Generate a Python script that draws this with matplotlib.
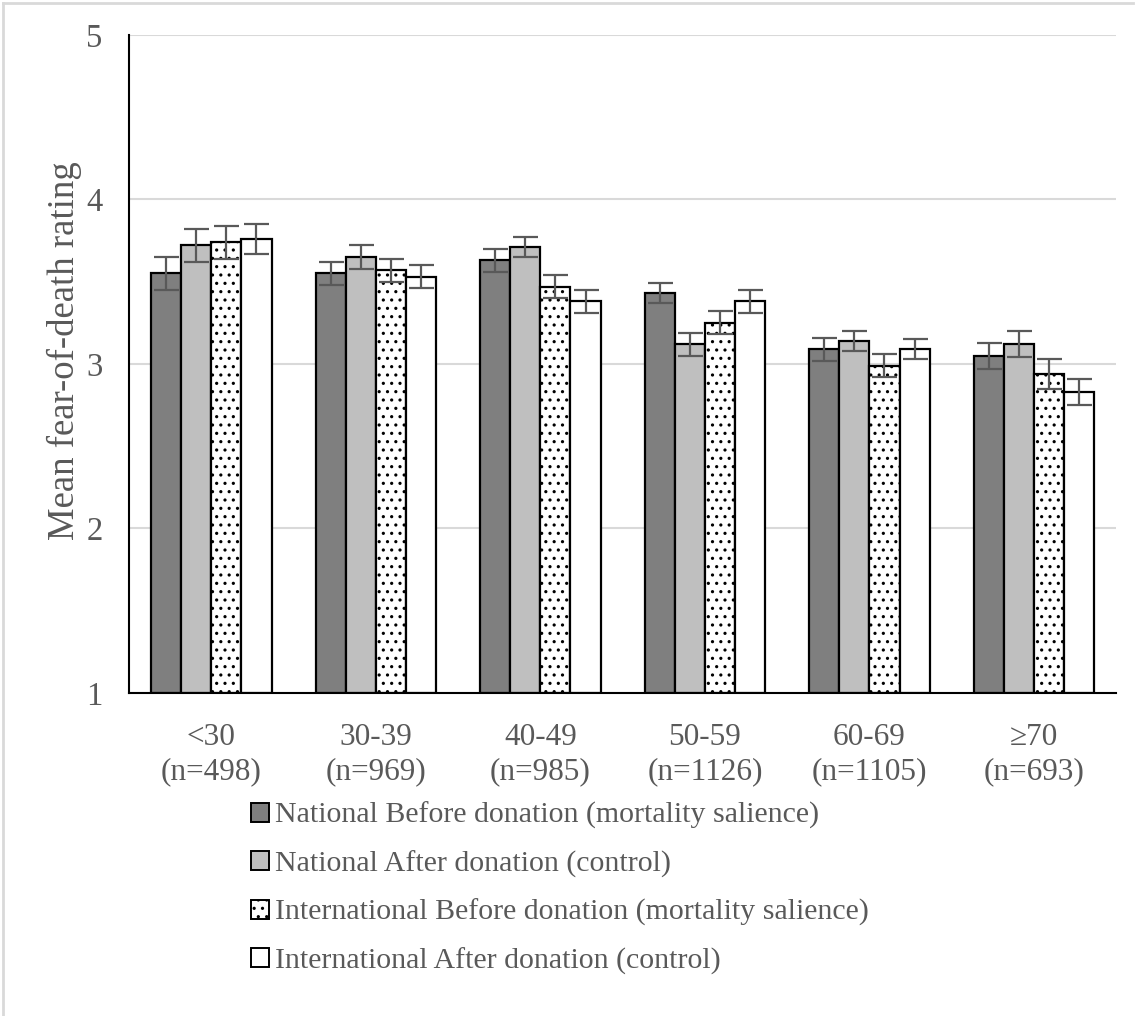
import numpy as np
import matplotlib.pyplot as plt
from matplotlib.patches import Rectangle
from matplotlib.lines import Line2D

plt.rcParams['font.family'] = ['Liberation Serif', 'DejaVu Serif']
plt.rcParams['hatch.linewidth'] = 1.1

# data
groups = ["<30\n(n=498)", "30-39\n(n=969)", "40-49\n(n=985)",
          "50-59\n(n=1126)", "60-69\n(n=1105)", "\u226570\n(n=693)"]
series = ["National Before donation (mortality salience)",
          "National After donation (control)",
          "International Before donation (mortality salience)",
          "International After donation (control)"]
nat_before = [3.55, 3.55, 3.63, 3.43, 3.09, 3.05]
nat_after = [3.72, 3.65, 3.71, 3.12, 3.14, 3.12]
int_before = [3.74, 3.57, 3.47, 3.25, 2.99, 2.94]
int_after = [3.76, 3.53, 3.38, 3.38, 3.09, 2.83]
err_nat_before = [0.10, 0.07, 0.07, 0.06, 0.07, 0.08]
err_nat_after = [0.10, 0.07, 0.06, 0.07, 0.06, 0.08]
err_int_before = [0.10, 0.07, 0.07, 0.07, 0.07, 0.09]
err_int_after = [0.09, 0.07, 0.07, 0.07, 0.06, 0.08]

vals = [nat_before, nat_after, int_before, int_after]
errs = [err_nat_before, err_nat_after, err_int_before, err_int_after]
fills = ['#7f7f7f', '#bfbfbf', 'white', 'white']
hatches = [None, None, '..', None]
txt = '#595959'

fig = plt.figure(figsize=(11.36, 10.16), dpi=100)
ax = fig.add_axes([0.1136, 0.318, 0.869, 0.6476])

x = np.arange(len(groups))
w = 0.183
for i in range(4):
    pos = x + (i - 1.5) * w
    ax.bar(pos, np.array(vals[i]) - 1, w, bottom=1, color=fills[i],
           edgecolor='black', linewidth=1.6, hatch=hatches[i], zorder=2)
    ax.errorbar(pos, vals[i], yerr=errs[i], fmt='none', ecolor=txt,
                elinewidth=1.6, capsize=9, capthick=1.6, zorder=3)

ax.set_xlim(-0.5, len(groups) - 0.5)
ax.set_ylim(1, 5)
ax.set_yticks([1, 2, 3, 4, 5])
ax.set_xticks(x)
ax.set_xticklabels(groups, fontsize=22.5, color=txt, linespacing=1.2)
ax.tick_params(axis='y', labelsize=23.5, labelcolor=txt, length=0, pad=19)
ax.tick_params(axis='x', length=0, pad=22)
ax.yaxis.grid(True, color='#d9d9d9', linewidth=1.5, zorder=0)
ax.set_axisbelow(True)
for s in ['top', 'right']:
    ax.spines[s].set_visible(False)
ax.spines['left'].set_linewidth(1.5)
ax.spines['bottom'].set_linewidth(1.5)
ax.set_ylabel("Mean fear-of-death rating", fontsize=26.5, color=txt,
              labelpad=3, y=0.52)

handles = [Rectangle((0, 0), 1, 1, facecolor=fills[i], edgecolor='black',
                     linewidth=1.4, hatch=hatches[i]) for i in range(4)]
leg = fig.legend(handles, series, loc='upper left', bbox_to_anchor=(0.197, 0.2372),
                 frameon=False, fontsize=21.5, handlelength=0.6, handleheight=0.6,
                 handletextpad=0.2, labelspacing=0.71, labelcolor=txt)

# light frame around the figure
fig.add_artist(Line2D([0.003, 0.997], [0.997, 0.997], color='#d9d9d9', lw=2,
                      transform=fig.transFigure))
fig.add_artist(Line2D([0.003, 0.003], [0.0, 0.997], color='#d9d9d9', lw=2,
                      transform=fig.transFigure))

fig.savefig("out.png", dpi=100)
